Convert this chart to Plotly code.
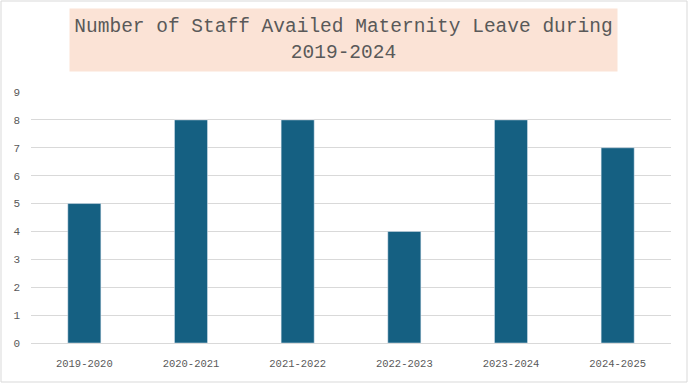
import plotly.graph_objects as go

categories = ["2019-2020", "2020-2021", "2021-2022", "2022-2023", "2023-2024", "2024-2025"]
staff_counts = [5, 8, 8, 4, 8, 7]
y_ticks = list(range(0, 10))

W, H = 689, 384
ml, mr, mt, mb = 31, 18, 92, 41
pw, ph = W - ml - mr, H - mt - mb

def px(x):
    return (x - ml) / pw

def py(ytop):
    return (H - mb - ytop) / ph

fig = go.Figure(go.Bar(x=categories, y=staff_counts, marker_color="#156082", width=0.31))

font_fam = "Liberation Mono, DejaVu Sans Mono, monospace"
fig.update_layout(
    width=W, height=H,
    margin=dict(l=ml, r=mr, t=mt, b=mb, autoexpand=False),
    plot_bgcolor="white", paper_bgcolor="white",
    showlegend=False,
    font=dict(family=font_fam, color="#595959", size=12),
    xaxis=dict(showgrid=False, showline=True, linecolor="#D9D9D9", linewidth=1,
               ticks="", tickfont=dict(size=10.5, color="#595959"), automargin=False,
               ticklabelstandoff=10),
    yaxis=dict(range=[0, 9], tickvals=y_ticks, showgrid=True, gridcolor="#D9D9D9",
               gridwidth=1, zeroline=False, ticks="", tickfont=dict(size=11, color="#595959"),
               ticklabelstandoff=10, automargin=False),
    shapes=[dict(type="rect", xref="paper", yref="paper",
                 x0=px(1), x1=px(W - 2), y0=py(H - 2), y1=py(1),
                 line=dict(color="#D9D9D9", width=1), fillcolor="rgba(0,0,0,0)", layer="below")],
    annotations=[dict(text="Number of Staff Availed Maternity Leave during<br>2019-2024",
                      xref="paper", yref="paper", x=px(343.5), y=py(40.5),
                      xanchor="center", yanchor="middle", showarrow=False,
                      bgcolor="#FBE3D6", width=545, height=60,
                      font=dict(family=font_fam, size=19.5, color="#595959"))],
)

fig.write_html("out.html", config={"displayModeBar": False},
               post_script="document.body.style.margin='0';document.body.style.padding='0';")
